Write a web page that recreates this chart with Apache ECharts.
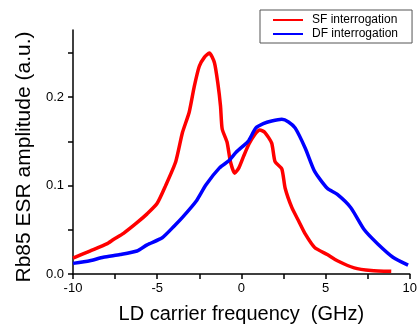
<!DOCTYPE html>
<html>
<head>
<meta charset="utf-8">
<script src="https://cdn.jsdelivr.net/npm/echarts@6/dist/echarts.min.js"></script>
<style>html,body{margin:0;padding:0;background:#fff;}#c{width:420px;height:329px;}</style>
</head>
<body>
<div id="c"></div>
<script>
// SF interrogation (red)
const sfFreq = [-10, -9, -8, -7.6, -7, -6.2, -5.6, -5, -4.5, -3.9, -3.5, -3.1, -2.8, -2.5, -2.2, -1.9, -1.6, -1.4, -1.24, -1.14, -0.85, -0.65, -0.4, -0.15, 0.15, 0.45, 0.8, 1.1, 1.4, 1.8, 2.0, 2.4, 2.6, 3.0, 3.4, 3.8, 4.35, 5.1, 5.7, 6.7, 7.7, 8.9];
const sfAmp  = [0.018, 0.026, 0.034, 0.039, 0.046, 0.058, 0.068, 0.080, 0.100, 0.127, 0.160, 0.183, 0.212, 0.235, 0.245, 0.250, 0.239, 0.216, 0.190, 0.164, 0.149, 0.127, 0.114, 0.120, 0.134, 0.147, 0.158, 0.163, 0.160, 0.148, 0.127, 0.119, 0.097, 0.075, 0.060, 0.045, 0.030, 0.022, 0.015, 0.007, 0.004, 0.003];
// DF interrogation (blue)
const dfFreq = [-10, -9, -8.2, -7.2, -6.2, -5.6, -4.7, -4.0, -3.5, -2.7, -2.1, -1.3, -0.75, -0.3, 0.4, 0.85, 1.3, 1.8, 2.4, 2.8, 3.2, 3.8, 4.35, 5.1, 5.7, 6.5, 7.3, 8.1, 9.0, 9.9];
const dfAmp  = [0.012, 0.015, 0.019, 0.022, 0.026, 0.033, 0.041, 0.054, 0.064, 0.082, 0.101, 0.120, 0.128, 0.138, 0.150, 0.165, 0.170, 0.173, 0.175, 0.172, 0.165, 0.142, 0.116, 0.097, 0.090, 0.075, 0.050, 0.034, 0.019, 0.010];
const seriesNames = ['SF interrogation', 'DF interrogation'];
const yTickValues = [0, 0.05, 0.1, 0.15, 0.2, 0.25];
const yLabelValues = [0, 0.1, 0.2];
const xLabelValues = [-10, -5, 0, 5, 10];

const zip = (a, b) => a.map((v, i) => [v, b[i]]);
const font = '"Liberation Sans", Arial, sans-serif';
const chart = echarts.init(document.getElementById('c'), null, {renderer: 'canvas'});
chart.setOption({
  animation: false,
  backgroundColor: '#fff',
  grid: {left: 73, right: 7, top: 30, bottom: 52},
  legend: {
    data: seriesNames,
    orient: 'vertical',
    left: 260, top: 10,
    padding: [3, 14, 2, 13],
    icon: 'rect',
    itemWidth: 30, itemHeight: 2, itemGap: 0,
    borderColor: '#555', borderWidth: 1,
    backgroundColor: '#fff',
    textStyle: {fontFamily: font, fontSize: 12, color: '#000', padding: [0, 0, 0, 4], lineHeight: 14}
  },
  xAxis: {
    type: 'value', min: -10, max: 10, interval: 2.5,
    name: 'LD carrier frequency  (GHz)', nameLocation: 'middle', nameGap: 30,
    nameTextStyle: {fontFamily: font, fontSize: 20, color: '#000'},
    axisLine: {onZero: false, lineStyle: {color: '#000', width: 1.5}},
    axisTick: {show: true, length: 5, inside: false, lineStyle: {color: '#000', width: 1.5}},
    axisLabel: {fontFamily: font, fontSize: 13, color: '#000', margin: 8,
      formatter: v => xLabelValues.includes(v) ? String(v) : ''},
    splitLine: {show: false}
  },
  yAxis: {
    type: 'value', min: 0, max: 0.276,
    name: 'Rb85 ESR amplitude (a.u.)', nameLocation: 'middle', nameGap: 36,
    nameTextStyle: {fontFamily: font, fontSize: 21, color: '#000', padding: [0, 10, 0, 0]},
    axisLine: {show: true, onZero: false, lineStyle: {color: '#000', width: 1.5}},
    axisTick: {show: true, length: 5, inside: false, customValues: yTickValues, lineStyle: {color: '#000', width: 1.5}},
    axisLabel: {fontFamily: font, fontSize: 13, color: '#000', margin: 9, customValues: yLabelValues,
      formatter: v => v.toFixed(1)},
    splitLine: {show: false}
  },
  series: [
    {name: seriesNames[0], type: 'line', data: zip(sfFreq, sfAmp), symbol: 'none', smooth: 0.2,
     lineStyle: {color: '#ff0000', width: 3.5}, itemStyle: {color: '#ff0000'}},
    {name: seriesNames[1], type: 'line', data: zip(dfFreq, dfAmp), symbol: 'none', smooth: 0.2,
     lineStyle: {color: '#0000ff', width: 3.5}, itemStyle: {color: '#0000ff'}}
  ]
});
</script>
</body>
</html>
